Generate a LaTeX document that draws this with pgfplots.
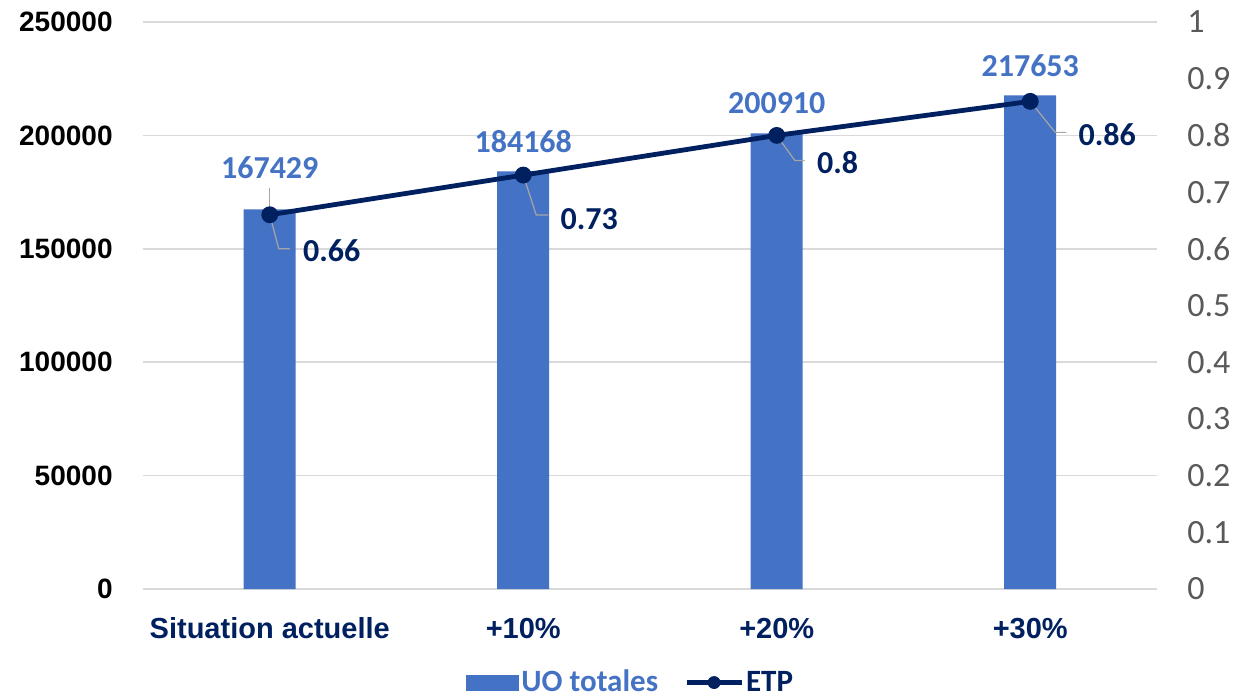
\documentclass[border=0pt]{standalone}
\usepackage{pgfplots}
\pgfplotsset{compat=1.18}
\usepackage{pgfplotstable}
\usepackage{fontspec}
\setmainfont{Carlito}
\newfontfamily\arialf{Liberation Sans}
\definecolor{uoblue}{HTML}{4472C4}
\definecolor{navy}{HTML}{002060}
\definecolor{gridgray}{HTML}{D9D9D9}
\definecolor{tickgray}{HTML}{595959}
\definecolor{leadgray}{HTML}{A6A6A6}

\pgfplotstableread{
x y off
0 167429 21
1 184168 15
2 200910 15
3 217653 15
}\uodata

\pgfplotstableread{
x y dx dy
0 0.66 15.5 -18
1 0.73 17.5 -22
2 0.8 19 -13.5
3 0.86 23 -16.5
}\etpdata

\begin{document}
\begin{tikzpicture}
\useasboundingbox (0,0) rectangle (616.5pt,349pt);
\begin{axis}[
  at={(71.5pt,54.5pt)}, anchor=south west,
  scale only axis, width=507pt, height=283.5pt,
  xmin=-0.5, xmax=3.5, ymin=0, ymax=250000,
  xtick={0,1,2,3}, xticklabels={Situation actuelle,+10\%,+20\%,+30\%},
  ytick={0,50000,100000,150000,200000,250000},
  scaled y ticks=false,
  major tick length=0,
  ymajorgrids, grid style={gridgray, line width=0.8pt},
  axis line style={draw=none},
  /pgf/number format/assume math mode=true,
  yticklabel style={font=\arialf\bfseries\fontsize{14}{16}\selectfont, text=black, anchor=east, inner sep=0pt, xshift=-15pt, /pgf/number format/fixed, /pgf/number format/precision=0, /pgf/number format/1000 sep={}},
  xticklabel style={font=\arialf\bfseries\fontsize{14.5}{17}\selectfont, text=navy, anchor=base, inner sep=0pt, yshift=-24.5pt},
  ybar, bar width=26pt,
  clip=false,
  legend style={at={(0.481,-0.165)}, anchor=center, draw=none, fill=none,
    inner sep=0pt, nodes={inner sep=1pt},
    legend columns=2, font=\bfseries\fontsize{15.5}{17}\selectfont,
    /tikz/every even column/.append style={column sep=12pt}},
]
\addplot[fill=uoblue, draw=none,
  point meta=explicit symbolic,
  nodes near coords,
  visualization depends on={\thisrow{off} \as \off},
  nodes near coords style={anchor=center, yshift=\off pt, font=\bfseries\fontsize{16}{18}\selectfont, text=uoblue, inner sep=0pt},
  legend image code/.code={\fill[uoblue] (0pt,-4pt) rectangle (26.5pt,4pt);}
] table[x=x, y=y, meta=y] {\uodata};
\addlegendentry{\textcolor{uoblue}{UO totales}}
\addlegendimage{legend image code/.code={\draw[navy, line width=2.5pt] (0pt,0pt) -- (27.5pt,0pt); \fill[navy] (13.75pt,0pt) circle (3pt);}}
\addlegendentry{\textcolor{navy}{ETP}}
\end{axis}

\begin{axis}[
  at={(71.5pt,54.5pt)}, anchor=south west,
  scale only axis, width=507pt, height=283.5pt,
  xmin=-0.5, xmax=3.5, ymin=0, ymax=1,
  axis x line=none, axis y line*=right,
  y axis line style={draw=none},
  ytick={0,0.1,0.2,0.3,0.4,0.5,0.6,0.7,0.8,0.9,1},
  major tick length=0,
  /pgf/number format/assume math mode=true,
  yticklabel style={font=\fontsize{17}{19}\selectfont, text=tickgray, anchor=west, inner sep=0pt, xshift=15pt, /pgf/number format/fixed, /pgf/number format/precision=1},
  clip=false,
]
\draw[leadgray, line width=0.6pt] (axis cs:0,0.66) ++(0pt,3pt) -- ++(0pt,10.5pt);
\draw[leadgray, line width=0.6pt] (axis cs:0,0.66) ++(0.8pt,-3pt) -- ++(3.7pt,-14pt) -- ++(5.5pt,0pt);
\draw[leadgray, line width=0.6pt] (axis cs:1,0.73) ++(1pt,-3pt) -- ++(5.5pt,-17pt) -- ++(6pt,0pt);
\draw[leadgray, line width=0.6pt] (axis cs:2,0.8) ++(1.8pt,-2.5pt) -- ++(7.2pt,-10pt) -- ++(5pt,0pt);
\draw[leadgray, line width=0.6pt] (axis cs:3,0.86) ++(1.9pt,-2.4pt) -- ++(10.6pt,-13.1pt) -- ++(5.5pt,0pt);
\addplot[navy, line width=2.4pt, mark=*, mark size=3pt, mark options={fill=navy, draw=navy},
  point meta=explicit symbolic,
  nodes near coords,
  visualization depends on={\thisrow{dx} \as \dx},
  visualization depends on={\thisrow{dy} \as \dy},
  nodes near coords style={anchor=west, xshift=\dx pt, yshift=\dy pt, font=\bfseries\fontsize{16}{18}\selectfont, text=navy, inner sep=0pt}
] table[x=x, y=y, meta=y] {\etpdata};
\end{axis}
\end{tikzpicture}
\end{document}
